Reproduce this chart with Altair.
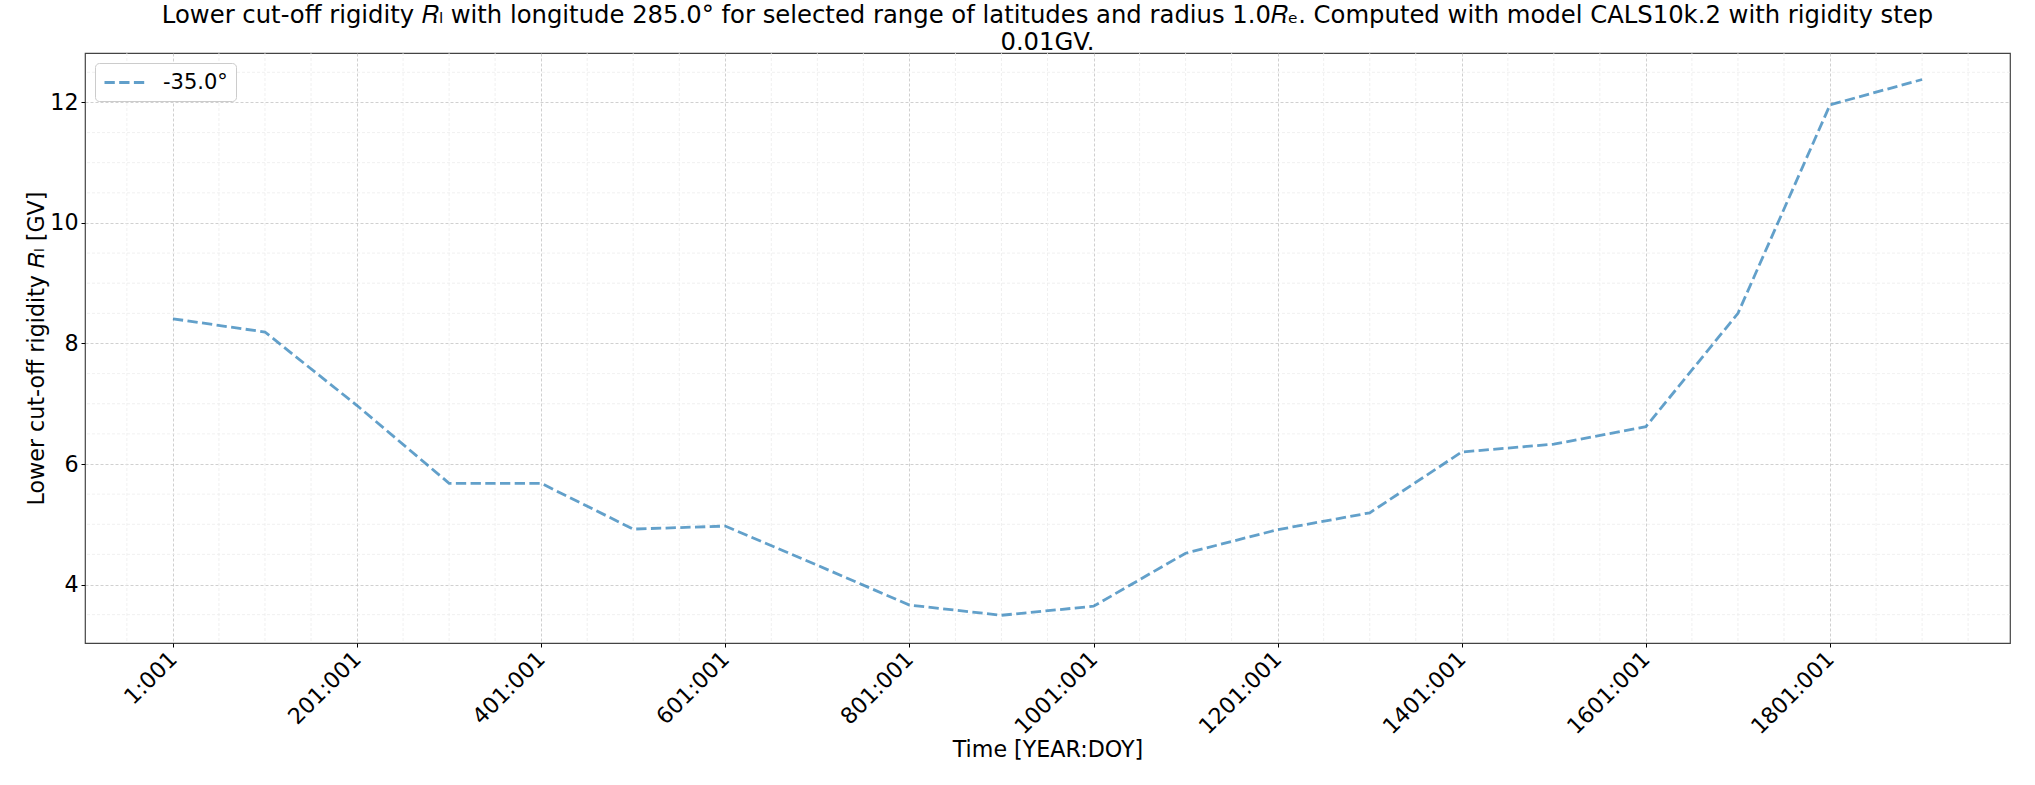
import altair as alt
import pandas as pd

# ---- data ----
years = [1, 101, 201, 301, 401, 501, 601, 701, 801, 901,
         1001, 1101, 1201, 1301, 1401, 1501, 1601, 1701, 1801, 1901]
rigidity = [8.41, 8.19, 6.97, 5.68, 5.68, 4.92, 4.97, 4.32, 3.66, 3.49,
            3.64, 4.52, 4.91, 5.19, 6.20, 6.33, 6.62, 8.50, 11.96, 12.38]
series_label = "-35.0°"

x_major = [1, 201, 401, 601, 801, 1001, 1201, 1401, 1601, 1801]
x_minor = [-49, 51, 101, 151, 251, 301, 351, 451, 501, 551, 651, 701, 751,
           851, 901, 951, 1051, 1101, 1151, 1251, 1301, 1351, 1451, 1501,
           1551, 1651, 1701, 1751, 1851, 1901, 1951]
y_major = [4, 6, 8, 10, 12]
y_minor = [3.5, 4.5, 5, 5.5, 6.5, 7, 7.5, 8.5, 9, 9.5, 10.5, 11, 11.5, 12.5]

title_lines = [
    "Lower cut-off rigidity 𝑅ₗ with longitude 285.0° for selected range of latitudes and radius 1.0𝑅ₑ. Computed with model CALS10k.2 with rigidity step",
    "0.01GV.",
]
x_title = "Time [YEAR:DOY]"
y_title = "Lower cut-off rigidity 𝑅ₗ [GV]"

FONT = "DejaVu Sans"
FS = 22.2
TITLE_FS = 24.3
LINE_COLOR = "#1f77b4"

df = pd.DataFrame({"year": years, "R": rigidity, "lat": [series_label] * len(years)})
mx = pd.DataFrame({"v": x_minor})
my = pd.DataFrame({"v": y_minor})

x_scale = alt.Scale(domain=[-94.5, 1996.5], nice=False, zero=False)
y_scale = alt.Scale(domain=[3.03, 12.82], nice=False, zero=False)

x_axis = alt.Axis(
    values=x_major,
    labelExpr="datum.value + ':001'",
    labelAngle=-45,
    labelAlign="right",
    labelBaseline="middle",
    labelPadding=8,
    labelFontSize=FS,
    labelFont=FONT,
    labelColor="black",
    labelOverlap=False,
    labelFlush=False,
    tickSize=4,
    tickColor="black",
    tickWidth=1,
    domain=False,
    grid=True,
    gridColor="#c4c4c4",
    gridDash=[3, 2],
    gridWidth=0.8,
    title=x_title,
    titleFont=FONT,
    titleFontSize=FS,
    titleFontWeight="normal",
    titleColor="black",
    titleBaseline="alphabetic",
    titleY=113,
)
y_axis = alt.Axis(
    values=y_major,
    labelFontSize=FS,
    labelFont=FONT,
    labelColor="black",
    labelPadding=3,
    tickSize=4,
    tickColor="black",
    tickWidth=1,
    domain=False,
    grid=True,
    gridColor="#c4c4c4",
    gridDash=[3, 2],
    gridWidth=0.8,
    title=y_title,
    titleFont=FONT,
    titleFontSize=FS,
    titleFontWeight="normal",
    titleColor="black",
    titleBaseline="alphabetic",
    titleX=-42,
    titleY=295,
    titleAngle=-90,
    titleAlign="center",
)

minor_x_rules = alt.Chart(mx).mark_rule(
    color="#ececec", strokeWidth=0.8, strokeDash=[3, 2]
).encode(x=alt.X("v:Q", scale=x_scale, axis=x_axis))

minor_y_rules = alt.Chart(my).mark_rule(
    color="#ececec", strokeWidth=0.8, strokeDash=[3, 2]
).encode(y=alt.Y("v:Q", scale=y_scale, axis=y_axis))

line = alt.Chart(df).mark_line(
    strokeDash=[10.3, 4.4], strokeWidth=2.8, opacity=0.7
).encode(
    x=alt.X("year:Q", scale=x_scale, axis=x_axis),
    y=alt.Y("R:Q", scale=y_scale, axis=y_axis),
    color=alt.Color(
        "lat:N",
        scale=alt.Scale(range=[LINE_COLOR]),
        legend=alt.Legend(
            title=None,
            orient="top-left",
            offset=10,
            padding=8,
            strokeColor="#cccccc",
            fillColor="white",
            cornerRadius=4,
            symbolType="M-2,0H2",
            symbolSize=400,
            symbolOffset=10,
            symbolStrokeWidth=2.8,
            symbolDash=[10.3, 4.4],
            symbolOpacity=0.7,
            symbolStrokeColor=LINE_COLOR,
            labelFont=FONT,
            labelFontSize=21,
            labelColor="black",
            labelOffset=27,
        ),
    ),
)

chart = alt.layer(minor_x_rules, minor_y_rules, line).properties(
    width=1925,
    height=590,
    padding={"left": 85, "top": 53, "right": 25, "bottom": 142},
    autosize=alt.AutoSizeParams(type="none"),
    title=alt.TitleParams(
        text=title_lines,
        font=FONT,
        fontSize=TITLE_FS,
        fontWeight="normal",
        color="black",
        anchor="middle",
        lineHeight=27,
        offset=1,
        dy=4,
    ),
).configure(background="white").configure_view(stroke="#444444", strokeWidth=1.2)

chart.save("out.html", embed_options={"renderer": "svg", "actions": False})
